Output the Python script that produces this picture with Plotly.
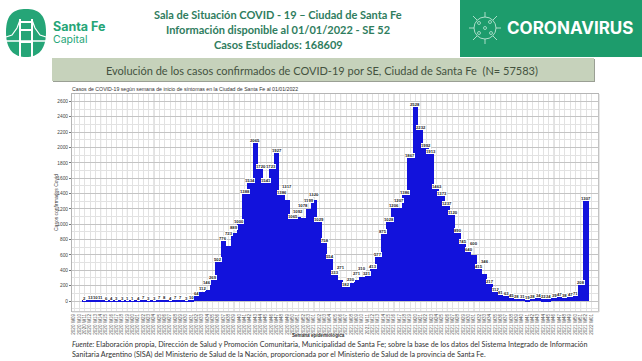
import plotly.graph_objects as go

WEEKS = [f"2020 W{w:02d}" for w in range(9, 54)] + [f"2021 W{w:02d}" for w in range(1, 53)] + ["2022 W01"]
CASES = [None, None, 2, 13, 10, 11, 6, 4, 3, 3, 1, 1, 4, 7, 3, 3, 7, 8, 4, 7, 7, 3, 10,
         64, 112, 146, 269, 502, 776, 723, 889, 1000, 1388, 1534, 2065, 1720, 1541, 1723, 1927,
         1386, 1317, 1065, 1092, 1078, 1199, 1320, 1029, 758, 554, 333, 271, 182, 230, 271, 310,
         321, 413, 577, 875, 1028, 1206, 1207, 1386, 1867, 2528, 2232, 1992, 1913, 1463, 1373,
         1237, 1120, 890, 745, 640, 600, 415, 346, 217, 112, 81, 63, 45, 28, 31, 19, 28, 34, 22,
         24, 39, 47, 38, 47, 71, 208, 1307, None]
POS = list(range(len(WEEKS)))
Y_TICKS = list(range(0, 2601, 200))
HEADER = ["Sala de Situación COVID - 19 – Ciudad de Santa Fe",
          "Información disponible al 01/01/2022 - SE 52",
          "Casos Estudiados: 168609"]
SUBTITLE = "Evolución de los casos confirmados de COVID-19 por SE, Ciudad de Santa Fe  (N= 57583)"
CAPTION = "Casos de COVID-19 según semana de inicio de síntomas en la Ciudad de Santa Fe al 01/01/2022"
FOOT = ["<i>Fuente:</i> Elaboración propia, Dirección de Salud y Promoción Comunitaria, Municipalidad de Santa Fe; sobre la base de los datos del Sistema Integrado de Información",
        "Sanitaria Argentino (SISA) del Ministerio de Salud de la Nación, proporcionada por el Ministerio de Salud de la provincia de Santa Fe."]

L, R, T, B = 72, 598, 94, 311
def px(x): return (x - L) / (R - L)
def py(y): return (B - y) / (B - T)

def text(x, y, s, size, color="#333", anchor="center", font="Lato", angle=0):
    return dict(x=px(x), y=py(y), xref="paper", yref="paper", text=s, showarrow=False,
                xanchor=anchor, yanchor="middle", textangle=angle, borderpad=0, borderwidth=0,
                font=dict(size=size, color=color, family=font))

def rect(x0, y0, x1, y1, fill):
    return dict(type="rect", xref="paper", yref="paper", x0=px(x0), x1=px(x1), y0=py(y0), y1=py(y1),
                fillcolor=fill, line=dict(color=fill, width=0), layer="below")

def seg(x0, y0, x1, y1, color="white", width=1.5):
    return dict(type="line", xref="paper", yref="paper", x0=px(x0), x1=px(x1), y0=py(y0), y1=py(y1),
                line=dict(color=color, width=width))

def path(pts, color, width):
    d = "M " + " L ".join(f"{px(a):.5f},{py(b):.5f}" for a, b in pts)
    return dict(type="path", xref="paper", yref="paper", path=d, fillcolor="rgba(0,0,0,0)",
                line=dict(color=color, width=width))

fig = go.Figure(go.Bar(x=POS, y=CASES, width=1.0, marker=dict(color="#1212dc", line=dict(width=0))))

shapes = []
shapes.append(rect(460, 0, 642, 57, "#1d9c6c"))
shapes.append(rect(53, 59, 595, 82, "#9a9f94"))
shapes.append(rect(52, 58, 594, 81, "#c6d2bb"))
shapes.append(seg(599, 94, 599, 312, color="#d0d0d0", width=1))
shapes.append(seg(72, 312, 599, 312, color="#d8d8d8", width=1))
for v in POS[5::5]:
    shapes.append(dict(type="line", xref="x", yref="paper", x0=v, x1=v, y0=0, y1=1,
                       line=dict(color="#bcbcbc", width=0.8), layer="below"))
shapes.append(dict(type="path", xref="paper", yref="paper",
    path=f"M {px(6)},{py(32)} C {px(6)},{py(14)} {px(14)},{py(9)} {px(26)},{py(9)} "
         f"C {px(38)},{py(9)} {px(46)},{py(14)} {px(46)},{py(32)} "
         f"C {px(46)},{py(50)} {px(38)},{py(57)} {px(26)},{py(57)} "
         f"C {px(14)},{py(57)} {px(6)},{py(50)} {px(6)},{py(32)} Z",
    fillcolor="#25a577", line=dict(width=0)))
for a, b, c, d in [(20, 19, 20, 57), (32, 19, 32, 57), (20, 22, 32, 22), (20, 30, 32, 30), (20, 42, 32, 42)]:
    shapes.append(seg(a, b, c, d, width=2))
shapes.append(path([(6, 37), (12, 35), (17, 28), (20, 20)], "white", 1.2))
shapes.append(path([(46, 37), (40, 35), (35, 28), (32, 20)], "white", 1.2))
shapes.append(seg(6, 41, 46, 41, width=1.5))
cx, cy, r = 485, 28, 11
shapes.append(dict(type="circle", xref="paper", yref="paper", x0=px(cx-r), x1=px(cx+r), y0=py(cy-r), y1=py(cy+r),
                   line=dict(color="#cfeee0", width=0.8)))
for a, b, c, d in [(cx, cy-r, cx, cy-16), (cx, cy+r, cx, cy+16), (cx-r, cy, cx-16, cy), (cx+r, cy, cx+16, cy),
                   (cx-8, cy-8, cx-12, cy-12), (cx+8, cy-8, cx+12, cy-12), (cx-8, cy+8, cx-12, cy+12), (cx+8, cy+8, cx+12, cy+12)]:
    shapes.append(seg(a, b, c, d, color="#cfeee0", width=0.8))
for a, b in [(cx-6, cy-5), (cx+5, cy-6), (cx, cy), (cx-6, cy+5), (cx+6, cy+5)]:
    shapes.append(dict(type="circle", xref="paper", yref="paper", x0=px(a-1.5), x1=px(a+1.5), y0=py(b-1.5), y1=py(b+1.5),
                       line=dict(color="#cfeee0", width=0.7)))

ann = []
ann.append(text(53, 26, "<b>Santa Fe</b>", 12.5, "#25a577", "left", "Inter"))
ann.append(text(53, 39.5, "Capital", 10.5, "#25a577", "left", "Inter"))
for yy, s in zip((15, 30, 44), HEADER):
    ann.append(text(278, yy, f"<b>{s}</b>", 11, "#2f7d5e"))
ann.append(text(507, 28, "<b>CORONAVIRUS</b>", 17, "white", "left", "Inter"))
ann.append(text(322, 70, SUBTITLE, 11, "#44523f"))
ann.append(text(72, 88.5, CAPTION, 5.2, "#333", "left", "Liberation Sans"))
ann.append(text(56, 203, "Casos confirmados Covid", 5, "#444", "center", "Liberation Sans", -90))
ann.append(text(318, 335.5, "<b>Semana epidemiológica</b>", 4.6, "#333", "center", "Liberation Sans"))
ann.append(text(72, 344, FOOT[0], 7.2, "#333", "left"))
ann.append(text(72, 354, FOOT[1], 7.2, "#333", "left"))

# value labels: neighbours of similar height are staggered so that they stay readable
prev_pos = None
PX_PER_UNIT = 15.33 / 200
for x, v in zip(POS, CASES):
    if v is None:
        continue
    base = v * PX_PER_UNIT
    shift = 0
    if prev_pos is not None and v >= 100 and abs(base - prev_pos) < 5.5:
        # keep this label clear of the previous one, on whichever side is nearer
        shift = prev_pos + 5.5 - base
    ann.append(dict(x=x, y=v, xref="x", yref="y", text=f"<b>{v}</b>", showarrow=False, yanchor="bottom",
                    yshift=shift, bgcolor="white", borderpad=0, borderwidth=0,
                    font=dict(size=4.2, color="#222", family="Liberation Sans")))
    prev_pos = base + shift

fig.update_layout(
    width=642, height=361, margin=dict(l=L, r=642 - R, t=T, b=361 - B, autoexpand=False),
    paper_bgcolor="white", plot_bgcolor="white", showlegend=False, bargap=0,
    shapes=shapes, annotations=ann,
    xaxis=dict(range=[-0.375, 98.25], tickmode="array", tickvals=POS, ticktext=WEEKS, tickangle=-90,
               tickfont=dict(size=4.6, color="#555", family="Liberation Sans"), ticklen=0,
               showgrid=True, gridcolor="#e2e2e2", gridwidth=0.7, zeroline=False,
               showline=True, linecolor="#b5b5b5", mirror=True, automargin=False),
    yaxis=dict(range=[-130, 2697], tickmode="array", tickvals=Y_TICKS, tickfont=dict(size=4.8, color="#444", family="Liberation Sans"),
               ticks="outside", ticklen=2, tickcolor="#777", tickwidth=0.6,
               showgrid=True, gridcolor="#c4c4c4", gridwidth=0.7, zeroline=False,
               minor=dict(dtick=100, tick0=0, showgrid=True, gridcolor="#e2e2e2", gridwidth=0.7, ticks=""),
               showline=True, linecolor="#b5b5b5", mirror=True, automargin=False),
)

fig.write_html("out.html", config={"displayModeBar": False},
               post_script="document.body.style.margin='0';document.documentElement.style.overflow='hidden';")
